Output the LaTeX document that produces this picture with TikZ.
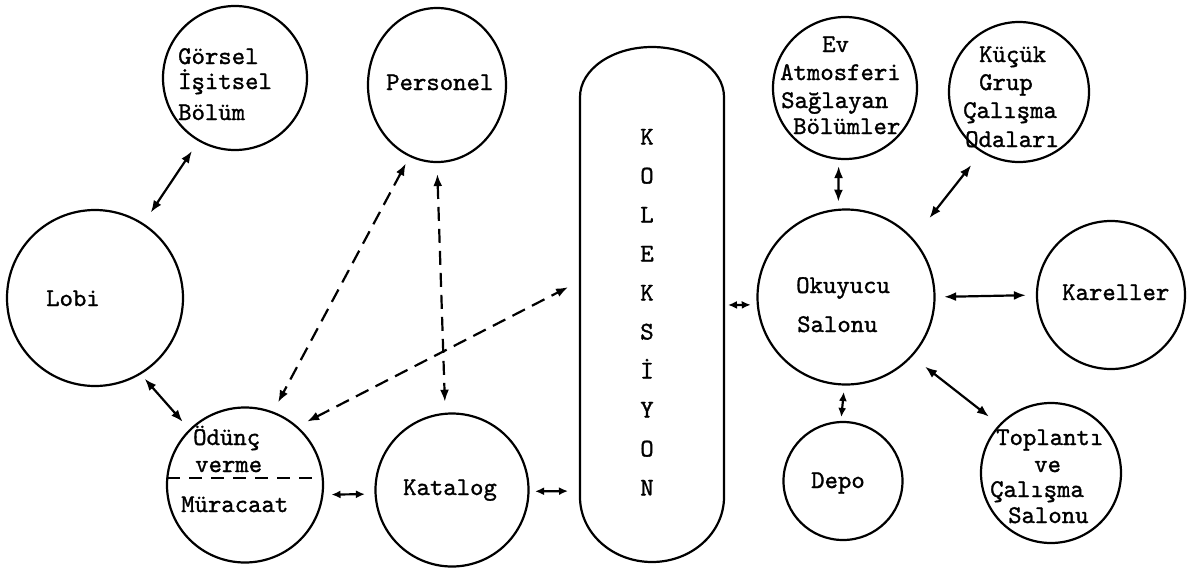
\documentclass[tikz,border=0pt]{standalone}
\usepackage{fontspec}
\newfontfamily\twfont{lmmono10-regular.otf}[FakeBold=1.2]
\usetikzlibrary{shapes.geometric,arrows.meta}
\begin{document}
\begin{tikzpicture}[x=1pt,y=-1pt,
  room/.style={draw, ellipse, line width=2.2pt, inner sep=0pt},
  txt/.style={anchor=base west, inner sep=0pt, font=\twfont\fontsize{25.5}{30}\selectfont},
  ctxt/.style={anchor=base, inner sep=0pt, font=\twfont\fontsize{25.5}{30}\selectfont},
  bi/.style={line width=2.2pt, {Latex[length=12pt,width=9pt]}-{Latex[length=12pt,width=9pt]}},
  bis/.style={line width=2.2pt, {Latex[length=9pt,width=8pt]}-{Latex[length=9pt,width=8pt]}},
  bid/.style={bi, dash pattern=on 14pt off 8pt},
]
\useasboundingbox (0,0) rectangle (1187,568);

% rooms
\node[room, minimum width=144pt, minimum height=144pt] (gorsel) at (235,78) {};
\node[room, minimum width=138pt, minimum height=154pt] (personel) at (437,85) {};
\node[room, minimum width=176pt, minimum height=176pt] (lobi) at (95,298) {};
\node[room, minimum width=156pt, minimum height=155pt] (odunc) at (245,485) {};
\node[room, minimum width=153pt, minimum height=153pt] (katalog) at (452,490) {};
\node[room, minimum width=144pt, minimum height=142pt] (ev) at (845,88) {};
\node[room, minimum width=140pt, minimum height=140pt] (kucuk) at (1019,92) {};
\node[room, minimum width=177pt, minimum height=175pt] (okuyucu) at (846,297) {};
\node[room, minimum width=148pt, minimum height=148pt] (kareller) at (1111,295) {};
\node[room, minimum width=119pt, minimum height=118pt] (depo) at (843,481) {};
\node[room, minimum width=140pt, minimum height=140pt] (toplanti) at (1051,473) {};

% collection (pill)
\draw[line width=2.2pt] (580,497) -- (580,97)
  arc[start angle=180,end angle=0,x radius=72pt,y radius=50pt] -- (724,497)
  arc[start angle=0,end angle=-180,x radius=72pt,y radius=65pt] -- cycle;
\node[inner sep=0pt, minimum width=144pt, minimum height=515pt] (kol) at (652,304.5) {};
\coordinate (kolin1) at (580,281);
\coordinate (kolin2) at (580,491);
\coordinate (kolout) at (724,305);

% dashed split in Odunc
\draw[line width=2pt, dash pattern=on 13pt off 9pt] (167,478) -- (313,478);

% texts
\node[txt] (t1) at (178,64) {Görsel};
\node[txt] (t2) at (178,89) {İşitsel};
\node[txt] (t3) at (178,120) {Bölüm};
\node[txt] (t4) at (386,90) {Personel};
\node[txt] (t5) at (46,306) {Lobi};
\node[txt] (t6) at (193,445) {Ödünç};
\node[txt] (t7) at (195,472) {verme};
\node[txt] (t8) at (181,512) {Müracaat};
\node[txt] (t9) at (403,495) {Katalog};
\foreach \l [count=\i] in {K,O,L,E,K,S,İ,Y,O,N}{
  \node[ctxt] (k\i) at (647,{144.5+39*(\i-1)}) {\l};
}
\node[txt] (e1) at (822,52) {Ev};
\node[txt] (e2) at (780,80) {Atmosferi};
\node[txt] (e3) at (781,108) {Sağlayan};
\node[txt] (e4) at (793,134) {Bölümler};
\node[txt] (g1) at (979,62) {Küçük};
\node[txt] (g2) at (979,90) {Grup};
\node[txt] (g3) at (963,118) {Çalışma};
\node[txt] (g4) at (965,147) {Odaları};
\node[txt] (o1) at (796,293) {Okuyucu};
\node[txt] (o2) at (797,332) {Salonu};
\node[txt] (ka) at (1062,300) {Kareller};
\node[txt] (de) at (811,488) {Depo};
\node[txt] (p1) at (996,445) {Toplantı};
\node[txt] (p2) at (1034,472) {ve};
\node[txt] (p3) at (990,497) {Çalışma};
\node[txt] (p4) at (1008,523) {Salonu};

% connectors
\draw[bi, shorten <=11.7pt, shorten >=13pt] (gorsel.-120) -- (lobi.57);
\draw[bi, shorten <=5.8pt, shorten >=9.9pt] (lobi.-59) -- (odunc.135);
\draw[bid, shorten <=7.6pt, shorten >=10.4pt] (personel.-111) -- (odunc.69);
\draw[bid, shorten <=11pt, shorten >=11pt] (personel.-90) -- (katalog.95);
\draw[bid, shorten <=10.6pt, shorten >=13.4pt] (odunc.48) -- (kolin1);
\draw[bis, shorten <=8pt, shorten >=9.6pt] (odunc.-7) -- (katalog.-177);
\draw[bis, shorten <=5.5pt, shorten >=12pt] (katalog.-1) -- (kolin2);
\draw[bis, shorten <=4pt, shorten >=6pt] (kolout) -- (okuyucu.-175);
\draw[bi, shorten <=6.3pt, shorten >=7pt] (ev.-95.6) -- (okuyucu.95.25);
\draw[bi, shorten <=16.3pt, shorten >=26pt] (kucuk.-122) -- (okuyucu.41);
\draw[bi, shorten <=8.5pt, shorten >=10pt] (okuyucu.0) -- (kareller.180);
\draw[bis, shorten <=6.5pt, shorten >=4pt] (okuyucu.-91) -- (depo.92);
\draw[bi, shorten <=16.3pt, shorten >=12.8pt] (okuyucu.-42.3) -- (toplanti.137.4);
\end{tikzpicture}
\end{document}
